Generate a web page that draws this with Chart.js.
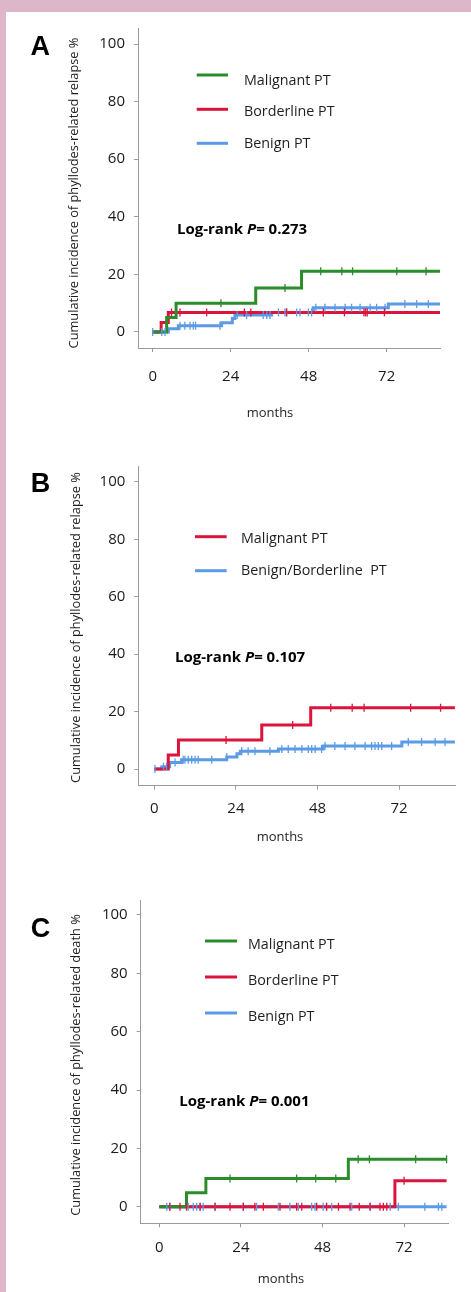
<!DOCTYPE html>
<html><head><meta charset="utf-8">
<script src="https://cdn.jsdelivr.net/npm/chart.js@4.4.1/dist/chart.umd.min.js"></script>
<style>
html,body{margin:0;padding:0;background:#fff;}
body{width:471px;height:1292px;position:relative;overflow:hidden;}
#bt{position:absolute;left:0;top:0;width:471px;height:12px;background:#ddb7c9;}
#bl{position:absolute;left:0;top:0;width:6px;height:1292px;background:#ddb7c9;}
canvas{position:absolute;left:0;display:block;}
</style></head><body>
<div id="bt"></div><div id="bl"></div>
<canvas id="cA" width="471" height="440" style="top:0px"></canvas>
<canvas id="cB" width="471" height="430" style="top:440px"></canvas>
<canvas id="cC" width="471" height="422" style="top:870px"></canvas>
<script>
// ---------- data ----------
const xTicks = [0, 24, 48, 72];
const yTicks = [0, 20, 40, 60, 80, 100];

// Panel A: relapse by grade
const timesA_mal = [0, 4.3, 7.2, 31.7, 45.8, 88.4];
const valsA_mal  = [0, 5.0, 10.0, 15.3, 21.1, 21.1];
const censA_mal  = [21.0, 40.7, 51.7, 58.2, 61.5, 75.1, 84.1];
const timesA_bor = [0, 2.6, 4.8, 88.4];
const valsA_bor  = [0, 3.3, 6.8, 6.8];
const censA_bor  = [5.8, 8.4, 16.6, 28.2, 30.2, 41.2, 52.5, 59.0, 65.0, 65.5, 66.0, 71.3];
const timesA_ben = [0, 4.8, 7.9, 21.2, 24.5, 25.3, 36.6, 49.4, 72.5, 88.4];
const valsA_ben  = [0, 1.1, 2.2, 3.2, 4.7, 5.9, 6.8, 8.4, 9.7, 9.7];
const censA_ben  = [0, 2.8, 3.8, 8.4, 9.9, 11.5, 12.5, 13.2, 20.7, 26.0, 28.9, 34.0, 35.1, 36.1, 38.7, 40.7, 41.2, 44.3, 45.3, 47.9, 48.9, 50.2, 53.0, 56.1, 59.2, 61.2, 63.8, 66.9, 68.9, 71.5, 77.6, 81.2, 84.8];

// Panel B: relapse, malignant vs benign/borderline
const timesB_mal = [0, 4.1, 7.1, 31.6, 46.0, 88.4];
const valsB_mal  = [0, 4.9, 10.1, 15.3, 21.3, 21.3];
const censB_mal  = [21.1, 40.7, 51.9, 58.2, 61.7, 75.4, 84.2];
const timesB_ben = [0, 2.2, 4.5, 8.0, 21.3, 24.3, 25.3, 36.5, 49.7, 72.8, 88.4];
const valsB_ben  = [0, 0.8, 2.3, 3.2, 4.2, 5.3, 6.2, 7.0, 8.0, 9.4, 9.4];
const censB_ben  = [0.2, 2.7, 3.6, 6.1, 8.5, 9.0, 10.0, 11.0, 12.0, 12.9, 16.9, 21.3, 25.7, 27.6, 29.6, 34.0, 37.5, 39.4, 41.4, 43.4, 45.3, 46.3, 47.3, 49.2, 50.2, 53.1, 56.1, 59.0, 62.0, 63.9, 64.9, 65.9, 66.9, 69.8, 74.7, 78.6, 82.6, 85.5];

// Panel C: death by grade
const timesC_mal = [0, 8.0, 13.7, 55.6, 84.5];
const valsC_mal  = [0, 4.8, 9.7, 16.3, 16.3];
const censC_mal  = [20.8, 40.4, 46.0, 51.9, 58.5, 61.8, 75.4, 84.5];
const timesC_bor = [0, 69.3, 84.5];
const valsC_bor  = [0, 8.9, 8.9];
const censC_bor  = [3.1, 6.1, 8.0, 12.0, 16.4, 20.8, 24.7, 28.1, 30.6, 35.5, 40.4, 41.9, 46.3, 49.2, 52.7, 56.1, 58.8, 62.0, 64.9, 65.9, 66.9, 72.0];
const timesC_ben = [0, 84.5];
const valsC_ben  = [0, 0];
const censC_ben  = [2.2, 3.1, 8.5, 10.0, 11.0, 12.0, 12.9, 16.4, 24.7, 28.6, 35.0, 38.4, 40.9, 44.8, 45.8, 48.2, 49.2, 50.7, 56.6, 62.0, 67.9, 70.3, 78.1, 82.1, 83.1];

const GREEN = '#2b8c2b', RED = '#dc143c', BLUE = '#5b9be6';
const FONT = "'Open Sans', 'DejaVu Sans', sans-serif";

function stepValue(times, vals, t) {
  let v = vals[0];
  for (let i = 0; i < times.length; i++) { if (times[i] <= t) v = vals[i]; }
  return v;
}

function makePanel(p) {
  const canvas = document.getElementById(p.id);
  const H = canvas.height;
  const yW = 60, xH = 40;
  const datasets = [];
  p.series.forEach(s => datasets.push({
    type: 'scatter',
    data: s.cens.map(t => ({x: t, y: stepValue(s.times, s.vals, t)})),
    showLine: false, pointStyle: 'line', rotation: 90, radius: 4, hoverRadius: 4,
    borderColor: s.color, backgroundColor: s.color, borderWidth: 1.3
  }));
  p.series.forEach(s => datasets.push({
    type: 'line',
    data: s.times.map((t, i) => ({x: t, y: s.vals[i]})),
    stepped: true, borderColor: s.color, borderWidth: 3, pointRadius: 0, fill: false,
    borderJoinStyle: 'miter', borderCapStyle: 'butt'
  }));

  const overlay = {
    id: 'overlay',
    afterDraw(chart) {
      const ctx = chart.ctx;
      const T = p.top;
      ctx.save();
      // panel letter
      ctx.fillStyle = '#000';
      ctx.font = "bold 27px 'Liberation Sans', Arial, sans-serif";
      ctx.textAlign = 'left'; ctx.textBaseline = 'alphabetic';
      ctx.fillText(p.letter, p.letterX, p.letterY - T);
      // y title
      ctx.save();
      ctx.translate(p.yTitleX, p.yTitleY - T);
      ctx.rotate(-Math.PI / 2);
      ctx.font = "12.8px " + FONT;
      ctx.fillStyle = '#1e1e1e';
      ctx.textAlign = 'center'; ctx.textBaseline = 'middle';
      ctx.fillText(p.yTitle, 0, 0);
      ctx.restore();
      // x title
      ctx.font = "13px " + FONT;
      ctx.fillStyle = '#1e1e1e';
      ctx.textAlign = 'center'; ctx.textBaseline = 'alphabetic';
      ctx.fillText('months', p.monthsX, p.monthsY - T);
      // legend
      p.legend.forEach((it, i) => {
        ctx.strokeStyle = it.color; ctx.lineWidth = 3;
        ctx.beginPath();
        ctx.moveTo(p.legX1, p.legLineY[i] - T);
        ctx.lineTo(p.legX2, p.legLineY[i] - T);
        ctx.stroke();
        ctx.fillStyle = '#1e1e1e';
        ctx.font = "14.3px " + FONT;
        ctx.textAlign = 'left';
        ctx.fillText(it.label, p.legTextX, p.legTextY[i] - T);
      });
      // log-rank
      let x = p.lrX; const y = p.lrY - T;
      ctx.fillStyle = '#000';
      ctx.textAlign = 'left';
      ctx.font = "bold 15px " + FONT;
      ctx.fillText('Log-rank ', x, y); x += ctx.measureText('Log-rank ').width;
      ctx.font = "italic bold 15px " + FONT;
      ctx.fillText('P', x, y); x += ctx.measureText('P').width;
      ctx.font = "bold 15px " + FONT;
      ctx.fillText('= ' + p.pval, x, y);
      ctx.restore();
    }
  };

  const axisColor = '#9a9a9a';
  new Chart(canvas, {
    type: 'line',
    data: {datasets},
    options: {
      responsive: false, animation: false, events: [],
      layout: {padding: {left: p.plot.l - yW, right: 471 - p.plot.r, top: p.plot.t - p.top, bottom: H - (p.plot.b - p.top) - xH}},
      plugins: {legend: {display: false}, tooltip: {enabled: false}},
      scales: {
        x: {
          type: 'linear', min: p.xMin, max: p.xMax,
          afterFit: s => { s.height = xH; },
          afterBuildTicks: s => { s.ticks = xTicks.map(v => ({value: v})); },
          grid: {drawOnChartArea: false, drawTicks: true, tickLength: 4, color: axisColor},
          border: {display: true, color: axisColor, width: 1},
          ticks: {font: {family: FONT, size: 15}, color: '#1a1a1a', padding: p.xPad, maxRotation: 0, autoSkip: false}
        },
        y: {
          type: 'linear', min: p.yMin, max: p.yMax,
          afterFit: s => { s.width = yW; },
          afterBuildTicks: s => { s.ticks = yTicks.map(v => ({value: v})); },
          grid: {drawOnChartArea: false, drawTicks: true, tickLength: 4, color: axisColor},
          border: {display: true, color: axisColor, width: 1},
          ticks: {font: {family: FONT, size: 15}, color: '#1a1a1a', padding: 9}
        }
      }
    },
    plugins: [overlay]
  });
}

makePanel({
  id: 'cA', top: 0,
  plot: {l: 138, r: 440, t: 28, b: 348},
  xMin: -4.52, xMax: 88.4, yMin: -5.56, yMax: 105.56, xPad: 15.5,
  series: [
    {times: timesA_mal, vals: valsA_mal, cens: censA_mal, color: GREEN},
    {times: timesA_bor, vals: valsA_bor, cens: censA_bor, color: RED},
    {times: timesA_ben, vals: valsA_ben, cens: censA_ben, color: BLUE}
  ],
  letter: 'A', letterX: 30.5, letterY: 55,
  yTitle: 'Cumulative incidence of phyllodes-related relapse %', yTitleX: 74, yTitleY: 193,
  monthsX: 270, monthsY: 417,
  legend: [{label: 'Malignant PT', color: GREEN}, {label: 'Borderline PT', color: RED}, {label: 'Benign PT', color: BLUE}],
  legX1: 196.7, legX2: 228, legLineY: [75, 109.3, 143.3], legTextX: 244, legTextY: [85, 116, 148.3],
  lrX: 177, lrY: 234, pval: '0.273'
});

makePanel({
  id: 'cB', top: 440,
  plot: {l: 138.3, r: 455, t: 466, b: 785.7},
  xMin: -4.71, xMax: 88.44, yMin: -5.81, yMax: 105.5, xPad: 10,
  series: [
    {times: timesB_mal, vals: valsB_mal, cens: censB_mal, color: RED},
    {times: timesB_ben, vals: valsB_ben, cens: censB_ben, color: BLUE}
  ],
  letter: 'B', letterX: 30.7, letterY: 491.7,
  yTitle: 'Cumulative incidence of phyllodes-related relapse %', yTitleX: 76, yTitleY: 627.5,
  monthsX: 280, monthsY: 841,
  legend: [{label: 'Malignant PT', color: RED}, {label: 'Benign/Borderline  PT', color: BLUE}],
  legX1: 195, legX2: 226.7, legLineY: [536.7, 570.7], legTextX: 241, legTextY: [543.3, 575],
  lrX: 175, lrY: 661.7, pval: '0.107'
});

makePanel({
  id: 'cC', top: 870,
  plot: {l: 140.7, r: 448.3, t: 900, b: 1223.3},
  xMin: -5.47, xMax: 85.0, yMin: -5.69, yMax: 105.14, xPad: 11,
  series: [
    {times: timesC_mal, vals: valsC_mal, cens: censC_mal, color: GREEN},
    {times: timesC_bor, vals: valsC_bor, cens: censC_bor, color: RED},
    {times: timesC_ben, vals: valsC_ben, cens: censC_ben, color: BLUE}
  ],
  letter: 'C', letterX: 30.7, letterY: 936.7,
  yTitle: 'Cumulative incidence of phyllodes-related death %', yTitleX: 76, yTitleY: 1065,
  monthsX: 281, monthsY: 1283,
  legend: [{label: 'Malignant PT', color: GREEN}, {label: 'Borderline PT', color: RED}, {label: 'Benign PT', color: BLUE}],
  legX1: 205, legX2: 237, legLineY: [941, 977, 1013], legTextX: 248, legTextY: [949, 985, 1021],
  lrX: 179.3, lrY: 1106, pval: '0.001'
});
</script>
</body></html>
